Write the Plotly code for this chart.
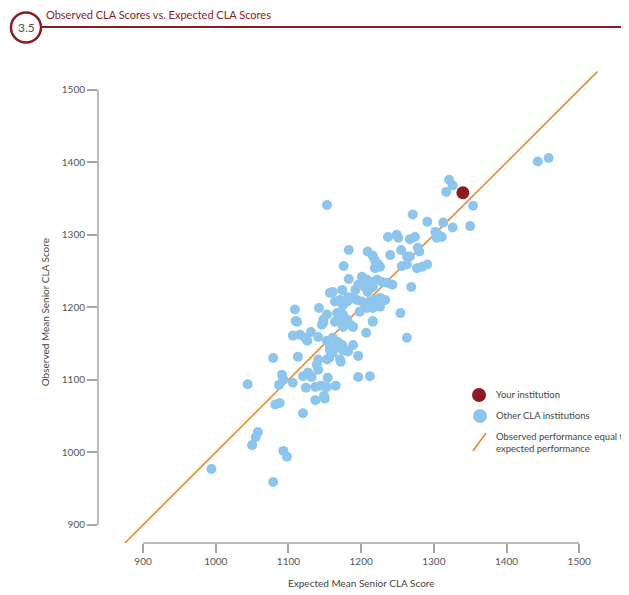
import plotly.graph_objects as go

# Other CLA institutions: expected (x) and observed (y) mean senior CLA scores
other_expected = [994, 1079, 1058, 1055, 1050, 1093, 1098, 1044, 1079, 1113,
                  1091, 1087, 1106, 1082, 1088, 1120, 1120, 1127, 1132, 1124,
                  1137, 1145, 1154, 1165, 1137, 1149, 1150, 1141, 1139, 1141,
                  1131, 1141, 1106, 1116, 1126, 1112, 1148, 1153, 1157, 1161,
                  1156, 1172, 1196, 1196, 1212, 1207, 1189, 1179, 1216, 1109,
                  1142, 1110, 1148, 1146, 1123, 1093, 1153, 1157, 1153, 1183,
                  1176, 1183, 1196, 1161, 1174, 1209, 1216, 1219, 1223, 1219,
                  1226, 1201, 1208, 1215, 1222, 1229, 1236, 1243, 1205, 1216,
                  1240, 1255, 1278, 1280, 1263, 1267, 1256, 1263, 1277, 1284,
                  1291, 1269, 1237, 1249, 1251, 1267, 1274, 1302, 1306, 1304,
                  1311, 1271, 1291, 1313, 1326, 1350, 1354, 1321, 1326, 1317,
                  1443, 1458, 1182, 1189, 1194, 1201, 1181, 1171, 1164, 1175,
                  1212, 1219, 1226, 1233, 1222, 1226, 1198, 1208, 1216, 1254,
                  1153, 1167, 1175, 1171, 1164, 1181, 1185, 1189, 1175, 1216,
                  1263, 1161, 1168, 1157, 1164, 1174, 1175, 1182, 1171, 1153,
                  1192, 1209]
other_observed = [977, 959, 1028, 1021, 1010, 1002, 994, 1094, 1130, 1132,
                  1107, 1093, 1096, 1066, 1068, 1054, 1105, 1110, 1104, 1089,
                  1090, 1092, 1103, 1092, 1072, 1078, 1074, 1128, 1121, 1114,
                  1166, 1159, 1161, 1162, 1154, 1180, 1179, 1154, 1141, 1137,
                  1130, 1125, 1133, 1104, 1105, 1165, 1148, 1140, 1180, 1197,
                  1199, 1181, 1183, 1176, 1158, 1100, 1128, 1220, 1341, 1279,
                  1257, 1239, 1231, 1221, 1224, 1277, 1271, 1265, 1260, 1254,
                  1256, 1242, 1238, 1235, 1238, 1235, 1234, 1231, 1228, 1228,
                  1272, 1279, 1282, 1277, 1270, 1270, 1257, 1259, 1254, 1256,
                  1259, 1228, 1297, 1300, 1296, 1294, 1297, 1304, 1300, 1296,
                  1297, 1328, 1318, 1317, 1310, 1312, 1340, 1376, 1368, 1359,
                  1401, 1406, 1214, 1213, 1210, 1208, 1208, 1210, 1208, 1203,
                  1208, 1210, 1213, 1210, 1203, 1201, 1194, 1199, 1199, 1192,
                  1190, 1192, 1190, 1183, 1180, 1183, 1176, 1173, 1173, 1181,
                  1158, 1158, 1152, 1145, 1144, 1148, 1141, 1139, 1128, 1090,
                  1224, 1221]

# Your institution
your_expected = [1340]
your_observed = [1358]

# Reference line: observed = expected
line_vals = [875, 1525]

tick_vals = [900, 1000, 1100, 1200, 1300, 1400, 1500]
tick_text = ["900", "1000", "1100", "1200", "1300", "1400", "1500"]

BLUE = "#8ec5ec"
RED = "#8b1a22"
ORANGE = "#e38a33"
AXIS = "#a9a49b"
TXT = "#444444"
FONT = "Lato"

fig = go.Figure()
fig.add_trace(go.Scatter(x=line_vals, y=line_vals, mode="lines",
                         line=dict(color=ORANGE, width=1.6),
                         hoverinfo="skip", showlegend=False))
fig.add_trace(go.Scatter(x=other_expected, y=other_observed, mode="markers",
                         marker=dict(color=BLUE, size=10, line=dict(width=0)),
                         showlegend=False, name="Other CLA institutions"))
fig.add_trace(go.Scatter(x=your_expected, y=your_observed, mode="markers",
                         marker=dict(color=RED, size=13, line=dict(width=0)),
                         showlegend=False, name="Your institution"))

shapes = [
    # axis lines
    dict(type="line", xref="paper", yref="y", x0=0, x1=0, y0=900, y1=1500,
         line=dict(color=AXIS, width=1.5)),
    dict(type="line", xref="x", yref="paper", x0=900, x1=1500, y0=0, y1=0,
         line=dict(color=AXIS, width=1.5)),
    # header rule and badge
    dict(type="line", xref="paper", yref="paper", x0=-0.112, x1=1.06,
         y0=1.0863, y1=1.0863, line=dict(color=RED, width=2)),
    dict(type="circle", xref="paper", yref="paper", x0=-0.173, x1=-0.1133,
         y0=1.0537, y1=1.1168, line=dict(color=RED, width=2.5),
         fillcolor="white"),
    # legend glyphs
    dict(type="circle", xref="paper", yref="paper", x0=0.7436, x1=0.7714,
         y0=0.2969, y1=0.3263, line=dict(width=0), fillcolor=RED),
    dict(type="circle", xref="paper", yref="paper", x0=0.7455, x1=0.7733,
         y0=0.2527, y1=0.2821, line=dict(width=0), fillcolor=BLUE),
    dict(type="line", xref="paper", yref="paper", x0=0.7455, x1=0.7714,
         y0=0.1937, y1=0.2316, line=dict(color=ORANGE, width=1.6)),
]

annotations = [
    dict(text="Observed CLA Scores vs. Expected CLA Scores", xref="paper",
         yref="paper", x=-0.107, y=1.1116, xanchor="left", yanchor="middle",
         showarrow=False, font=dict(family=FONT, size=11, color=RED)),
    dict(text="3.5", xref="paper", yref="paper", x=-0.1431, y=1.0853,
         xanchor="center", yanchor="middle", showarrow=False,
         font=dict(family=FONT, size=12, color="#5a4848")),
    dict(text="Observed Mean Senior CLA Score", xref="paper", yref="paper",
         x=-0.105, y=0.486, textangle=-90, xanchor="center", yanchor="middle",
         showarrow=False, font=dict(family=FONT, size=10, color=TXT)),
    dict(text="Expected Mean Senior CLA Score", xref="x", yref="paper",
         x=1200, y=-0.085, xanchor="center", yanchor="middle",
         showarrow=False, font=dict(family=FONT, size=10, color=TXT)),
    dict(text="Your institution", xref="paper", yref="paper", x=0.787,
         y=0.3116, xanchor="left", yanchor="middle", showarrow=False,
         font=dict(family=FONT, size=9.5, color=TXT)),
    dict(text="Other CLA institutions", xref="paper", yref="paper", x=0.787,
         y=0.2674, xanchor="left", yanchor="middle", showarrow=False,
         font=dict(family=FONT, size=9.5, color=TXT)),
    dict(text="Observed performance equal to<br>expected performance",
         xref="paper", yref="paper", x=0.787, y=0.2126, xanchor="left",
         yanchor="middle", align="left", showarrow=False,
         font=dict(family=FONT, size=9.5, color=TXT)),
]

fig.update_layout(
    width=621, height=587,
    margin=dict(l=90, r=28, t=60, b=52),
    paper_bgcolor="white", plot_bgcolor="white",
    shapes=shapes, annotations=annotations,
    font=dict(family=FONT, color=TXT),
    xaxis=dict(range=[838, 1530], showgrid=False, zeroline=False,
               showline=False, tickmode="array", tickvals=tick_vals,
               ticktext=tick_text, ticks="outside", ticklen=9,
               tickcolor=AXIS, tickwidth=1.5,
               tickfont=dict(family=FONT, size=10, color="#555555")),
    yaxis=dict(range=[875, 1530], showgrid=False, zeroline=False,
               showline=False, tickmode="array", tickvals=tick_vals,
               ticktext=tick_text, ticks="outside", ticklen=10,
               tickcolor=AXIS, tickwidth=1.5,
               tickfont=dict(family=FONT, size=10, color="#555555")),
)

fig.write_html("out.html")
